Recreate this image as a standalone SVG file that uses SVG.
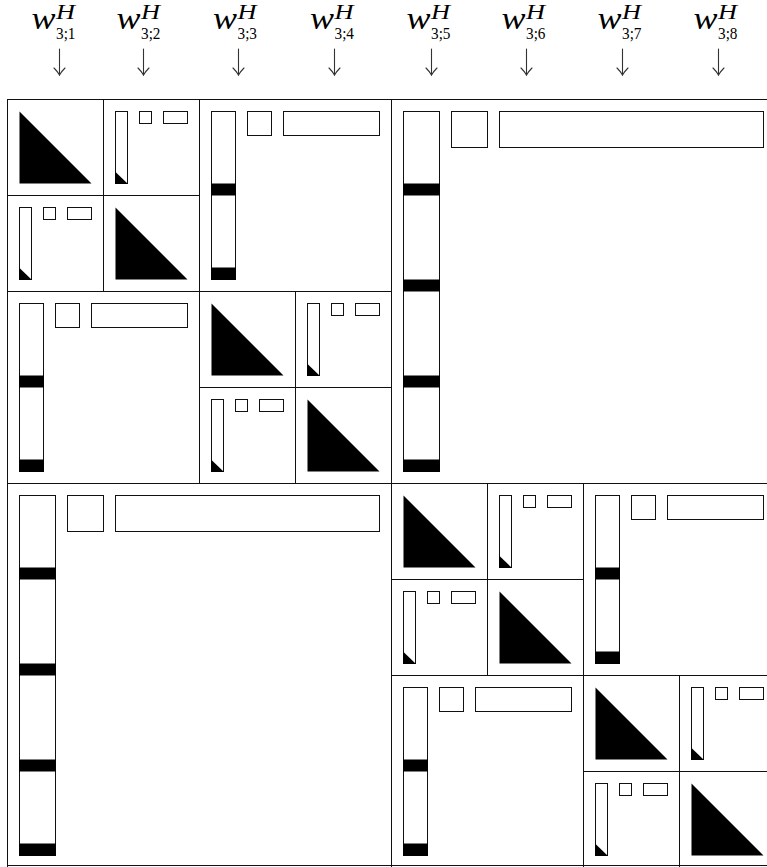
<svg xmlns="http://www.w3.org/2000/svg" width="767" height="867" viewBox="0 0 767 867">
<style>
.b{fill:#fff;stroke:#111;stroke-width:1}
.s{fill:#fff;stroke:#111;stroke-width:1}
.f{fill:#000;stroke:none}
.w{font-family:"Liberation Serif",serif;font-style:italic;font-size:31px;fill:#000}
.h{font-family:"Liberation Serif",serif;font-style:italic;font-size:20px;fill:#000}
.n{font-family:"Liberation Serif",serif;font-size:17.5px;fill:#000}
.arr{fill:none;stroke:#333;stroke-width:1.1;stroke-linecap:round}
</style>
<defs>
<g id="diag1">
<rect class="b" width="96" height="96"/>
<path class="f" d="M12,12 L12,84 L84,84 Z"/>
</g>
<g id="off1">
<rect class="b" width="96" height="96"/>
<rect class="s" x="12" y="12" width="12" height="72"/>
<path class="f" d="M11.5,72 L11.5,84.5 L24.5,84.5 Z"/>
<rect class="s" x="36" y="12" width="12" height="12"/>
<rect class="s" x="60" y="12" width="24" height="12"/>
</g>
<g id="off2">
<rect class="b" width="192" height="192"/>
<rect class="s" x="12" y="12" width="24" height="168"/>
<rect class="f" x="11.5" y="84" width="25" height="12"/>
<rect class="f" x="11.5" y="168" width="25" height="12.5"/>
<rect class="s" x="48" y="12" width="24" height="24"/>
<rect class="s" x="84" y="12" width="96" height="24"/>
</g>
<g id="off4">
<rect class="b" width="384" height="384"/>
<rect class="s" x="12" y="12" width="36" height="360"/>
<rect class="f" x="11.5" y="84" width="37" height="12"/>
<rect class="f" x="11.5" y="180" width="37" height="12"/>
<rect class="f" x="11.5" y="276" width="37" height="12"/>
<rect class="f" x="11.5" y="360" width="37" height="12.5"/>
<rect class="s" x="60" y="12" width="36" height="36"/>
<rect class="s" x="108" y="12" width="264" height="36"/>
</g>
<marker id="ah" markerUnits="userSpaceOnUse" markerWidth="14" markerHeight="14" viewBox="-8 -7 10 14" refX="0" refY="0" orient="auto">
<path d="M-7,-5.5 Q-3,-1.5 0,0 Q-3,1.5 -7,5.5" fill="none" stroke="#333" stroke-width="1.1" stroke-linecap="round"/>
</marker>
</defs>

<g id="labels">
<g id="label1"><text class="w" x="31.5" y="29" textLength="24" lengthAdjust="spacingAndGlyphs">w</text><text class="h" x="56" y="19" textLength="19" lengthAdjust="spacingAndGlyphs">H</text><text class="n" x="56" y="39" textLength="19.5" lengthAdjust="spacingAndGlyphs">3;1</text></g>
<g id="label2"><text class="w" x="116.5" y="29" textLength="24" lengthAdjust="spacingAndGlyphs">w</text><text class="h" x="141" y="19" textLength="19" lengthAdjust="spacingAndGlyphs">H</text><text class="n" x="141" y="39" textLength="19.5" lengthAdjust="spacingAndGlyphs">3;2</text></g>
<g id="label3"><text class="w" x="213" y="29" textLength="24" lengthAdjust="spacingAndGlyphs">w</text><text class="h" x="237.5" y="19" textLength="19" lengthAdjust="spacingAndGlyphs">H</text><text class="n" x="237.5" y="39" textLength="19.5" lengthAdjust="spacingAndGlyphs">3;3</text></g>
<g id="label4"><text class="w" x="310" y="29" textLength="24" lengthAdjust="spacingAndGlyphs">w</text><text class="h" x="334.5" y="19" textLength="19" lengthAdjust="spacingAndGlyphs">H</text><text class="n" x="334.5" y="39" textLength="19.5" lengthAdjust="spacingAndGlyphs">3;4</text></g>
<g id="label5"><text class="w" x="406.5" y="29" textLength="24" lengthAdjust="spacingAndGlyphs">w</text><text class="h" x="431" y="19" textLength="19" lengthAdjust="spacingAndGlyphs">H</text><text class="n" x="431" y="39" textLength="19.5" lengthAdjust="spacingAndGlyphs">3;5</text></g>
<g id="label6"><text class="w" x="501.5" y="29" textLength="24" lengthAdjust="spacingAndGlyphs">w</text><text class="h" x="526" y="19" textLength="19" lengthAdjust="spacingAndGlyphs">H</text><text class="n" x="526" y="39" textLength="19.5" lengthAdjust="spacingAndGlyphs">3;6</text></g>
<g id="label7"><text class="w" x="597.5" y="29" textLength="24" lengthAdjust="spacingAndGlyphs">w</text><text class="h" x="622" y="19" textLength="19" lengthAdjust="spacingAndGlyphs">H</text><text class="n" x="622" y="39" textLength="19.5" lengthAdjust="spacingAndGlyphs">3;7</text></g>
<g id="label8"><text class="w" x="693.5" y="29" textLength="24" lengthAdjust="spacingAndGlyphs">w</text><text class="h" x="718" y="19" textLength="19" lengthAdjust="spacingAndGlyphs">H</text><text class="n" x="718" y="39" textLength="19.5" lengthAdjust="spacingAndGlyphs">3;8</text></g>
</g>

<g id="connectors">
<line class="arr" x1="59.5" y1="49" x2="59.5" y2="75" marker-end="url(#ah)"/>
<line class="arr" x1="143.5" y1="49" x2="143.5" y2="75" marker-end="url(#ah)"/>
<line class="arr" x1="238.5" y1="49" x2="238.5" y2="75" marker-end="url(#ah)"/>
<line class="arr" x1="334.5" y1="49" x2="334.5" y2="75" marker-end="url(#ah)"/>
<line class="arr" x1="431.5" y1="49" x2="431.5" y2="75" marker-end="url(#ah)"/>
<line class="arr" x1="526.5" y1="49" x2="526.5" y2="75" marker-end="url(#ah)"/>
<line class="arr" x1="622.5" y1="49" x2="622.5" y2="75" marker-end="url(#ah)"/>
<line class="arr" x1="718.5" y1="49" x2="718.5" y2="75" marker-end="url(#ah)"/>
</g>

<g id="matrix" transform="translate(7.5,99.5)">
<g id="blk-d11"><use href="#diag1" x="0" y="0"/></g>
<g id="blk-d22"><use href="#diag1" x="96" y="96"/></g>
<g id="blk-d33"><use href="#diag1" x="192" y="192"/></g>
<g id="blk-d44"><use href="#diag1" x="288" y="288"/></g>
<g id="blk-d55"><use href="#diag1" x="384" y="384"/></g>
<g id="blk-d66"><use href="#diag1" x="480" y="480"/></g>
<g id="blk-d77"><use href="#diag1" x="576" y="576"/></g>
<g id="blk-d88"><use href="#diag1" x="672" y="672"/></g>
<g id="blk-o12"><use href="#off1" x="96" y="0"/></g>
<g id="blk-o21"><use href="#off1" x="0" y="96"/></g>
<g id="blk-o34"><use href="#off1" x="288" y="192"/></g>
<g id="blk-o43"><use href="#off1" x="192" y="288"/></g>
<g id="blk-o56"><use href="#off1" x="480" y="384"/></g>
<g id="blk-o65"><use href="#off1" x="384" y="480"/></g>
<g id="blk-o78"><use href="#off1" x="672" y="576"/></g>
<g id="blk-o87"><use href="#off1" x="576" y="672"/></g>
<g id="blk-a12"><use href="#off2" x="192" y="0"/></g>
<g id="blk-a21"><use href="#off2" x="0" y="192"/></g>
<g id="blk-a34"><use href="#off2" x="576" y="384"/></g>
<g id="blk-a43"><use href="#off2" x="384" y="576"/></g>
<g id="blk-b12"><use href="#off4" x="384" y="0"/></g>
<g id="blk-b21"><use href="#off4" x="0" y="384"/></g>
</g>
<line x1="7.5" y1="865.5" x2="767" y2="865.5" stroke="#111" stroke-width="1"/>
</svg>
